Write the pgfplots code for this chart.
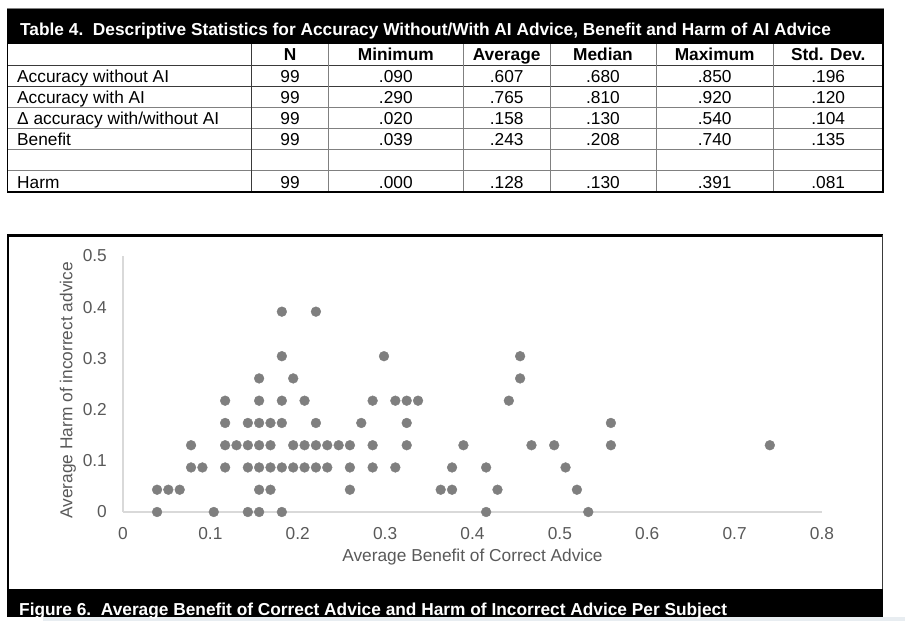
\documentclass[border=0pt]{standalone}
\usepackage{pgfplots}
\pgfplotsset{compat=1.18}
\usepackage{fontspec}
\setmainfont{Liberation Sans}
\definecolor{dotgray}{HTML}{7F7F7F}
\definecolor{txtgray}{HTML}{595959}
\definecolor{axgray}{HTML}{D9D9D9}
\definecolor{gridA}{HTML}{3A3A3A}
\definecolor{gridB}{HTML}{808080}
\definecolor{stripc}{HTML}{E8EDF1}
\newcommand{\fs}{\fontsize{17.3}{20}\selectfont}
\begin{document}
\begin{tikzpicture}
\path[use as bounding box] (0,0) rectangle (905pt,621pt);
\begin{scope}[x=1pt,y=-1pt,yshift=621pt,font=\fs]
% ---- Table ----
\draw[gridB,line width=0.8pt] (7,8) -- (884,8);
\fill[black] (7,9) rectangle (883,44.3);
\node[anchor=base west,inner sep=0pt,text=white,font=\fs\bfseries] at (20,36) {Table 4.\ \ Descriptive Statistics for Accuracy Without/With AI Advice, Benefit and Harm of AI Advice};
% horizontal lines
\draw[gridA,line width=1pt] (7,65.7) -- (883,65.7);
\draw[gridA,line width=1pt] (7,86.7) -- (883,86.7);
\draw[gridB,line width=1pt] (7,107.3) -- (883,107.3);
\draw[gridB,line width=1pt] (7,129) -- (883,129);
\draw[gridB,line width=1pt] (7,150) -- (883,150);
\draw[gridB,line width=1pt] (7,170.7) -- (883,170.7);
% vertical lines
\draw[gridA,line width=1pt] (251.7,44.3) -- (251.7,192);
\foreach \xx in {328.3,463.3,550,656,773.3}{\draw[gridB,line width=1pt] (\xx,44.3) -- (\xx,192);}
\draw[black,line width=1.5pt] (7.5,44.3) -- (7.5,192);
\draw[black,line width=2.5pt] (883,9) -- (883,193);
\draw[black,line width=2.5pt] (7,192) -- (884,192);
% header
\foreach \cx/\lab in {290/N,395.8/Minimum,506.7/Average,603/Median,714.7/Maximum,828.2/Std. Dev.}{
  \node[anchor=base,inner sep=0pt,font=\fs\bfseries] at (\cx,61) {\lab};}
% rows
\node[anchor=base west,inner sep=0pt] at (17,82.3) {Accuracy without AI};
\node[anchor=base west,inner sep=0pt] at (17,103.3) {Accuracy with AI};
\node[anchor=base west,inner sep=0pt] at (17,124.5) {Δ accuracy with/without AI};
\node[anchor=base west,inner sep=0pt] at (17,146) {Benefit};
\node[anchor=base west,inner sep=0pt] at (17,188.3) {Harm};
\foreach \by/\a/\b/\c/\d/\e/\f in {82.3/99/.090/.607/.680/.850/.196,103.3/99/.290/.765/.810/.920/.120,124.5/99/.020/.158/.130/.540/.104,146/99/.039/.243/.208/.740/.135,188.3/99/.000/.128/.130/.391/.081}{
  \node[anchor=base,inner sep=0pt] at (290,\by) {\a};
  \node[anchor=base,inner sep=0pt] at (395.8,\by) {\b};
  \node[anchor=base,inner sep=0pt] at (506.7,\by) {\c};
  \node[anchor=base,inner sep=0pt] at (603,\by) {\d};
  \node[anchor=base,inner sep=0pt] at (714.7,\by) {\e};
  \node[anchor=base,inner sep=0pt] at (828.2,\by) {\f};}
% ---- Figure frame ----
\draw[black,line width=2.5pt] (7,235.5) -- (883,235.5);
\draw[black,line width=2pt] (8,235) -- (8,590);
\draw[gridA,line width=1.5pt] (882.3,235) -- (882.3,590);
\fill[stripc] (43,617.5) rectangle (905,621);
\fill[black] (7,589) rectangle (883,617.5);
\node[anchor=base west,inner sep=0pt,text=white,font=\fs\bfseries] at (19,615.5) {Figure 6.\ \ Average Benefit of Correct Advice and Harm of Incorrect Advice Per Subject};
\end{scope}
% ---- Scatter ----
\begin{axis}[
  at={(123pt,109pt)}, anchor=south west,
  scale only axis, width=699pt, height=256pt,
  xmin=0, xmax=0.8, ymin=0, ymax=0.5,
  axis x line=bottom, axis y line=left,
  axis line style={draw=axgray, line width=1.3pt, -},
  xtick={0,0.1,0.2,0.3,0.4,0.5,0.6,0.7,0.8},
  xticklabels={0,0.1,0.2,0.3,0.4,0.5,0.6,0.7,0.8},
  ytick={0,0.1,0.2,0.3,0.4,0.5},
  yticklabels={0,0.1,0.2,0.3,0.4,0.5},
  major tick length=0pt,
  tick style={draw=none},
  /pgf/number format/assume math mode=true,
  ticklabel style={font=\fs, text=txtgray},
  xticklabel style={anchor=north, inner sep=0pt, yshift=-15pt},
  yticklabel style={anchor=east, inner sep=0pt, xshift=-16pt},
  xlabel={Average Benefit of Correct Advice},
  ylabel={Average Harm of incorrect advice},
  label style={font=\fs, text=txtgray},
  xlabel style={at={(axis description cs:0.5,-0.175)}, anchor=center},
  ylabel style={at={(axis description cs:-0.0787,0.475)}, anchor=center, rotate=0},
  clip=false,
]
\addplot[only marks, mark=*, mark size=4.9pt, color=dotgray, mark options={draw=dotgray, fill=dotgray}] coordinates {
(0.0390,0) (0.1039,0) (0.1429,0) (0.1558,0) (0.1818,0) (0.4156,0) (0.5325,0)
(0.0390,0.0435) (0.0519,0.0435) (0.0649,0.0435) (0.1558,0.0435) (0.1688,0.0435) (0.2597,0.0435) (0.3636,0.0435) (0.3766,0.0435) (0.4286,0.0435) (0.5195,0.0435)
(0.0779,0.0870) (0.0909,0.0870) (0.1169,0.0870) (0.1429,0.0870) (0.1558,0.0870) (0.1688,0.0870) (0.1818,0.0870) (0.1948,0.0870) (0.2078,0.0870) (0.2208,0.0870) (0.2338,0.0870) (0.2597,0.0870) (0.2857,0.0870) (0.3117,0.0870) (0.3766,0.0870) (0.4156,0.0870) (0.5065,0.0870)
(0.0779,0.1304) (0.1169,0.1304) (0.1299,0.1304) (0.1429,0.1304) (0.1558,0.1304) (0.1688,0.1304) (0.1948,0.1304) (0.2078,0.1304) (0.2208,0.1304) (0.2338,0.1304) (0.2468,0.1304) (0.2597,0.1304) (0.2857,0.1304) (0.3247,0.1304) (0.3896,0.1304) (0.4675,0.1304) (0.4935,0.1304) (0.5584,0.1304) (0.7403,0.1304)
(0.1169,0.1739) (0.1429,0.1739) (0.1558,0.1739) (0.1688,0.1739) (0.1818,0.1739) (0.2208,0.1739) (0.2727,0.1739) (0.3247,0.1739) (0.5584,0.1739)
(0.1169,0.2174) (0.1558,0.2174) (0.1818,0.2174) (0.2078,0.2174) (0.2857,0.2174) (0.3117,0.2174) (0.3247,0.2174) (0.3377,0.2174) (0.4416,0.2174)
(0.1558,0.2609) (0.1948,0.2609) (0.4545,0.2609)
(0.1818,0.3043) (0.2987,0.3043) (0.4545,0.3043)
(0.1818,0.3913) (0.2208,0.3913)
};
\end{axis}
\end{tikzpicture}
\end{document}
